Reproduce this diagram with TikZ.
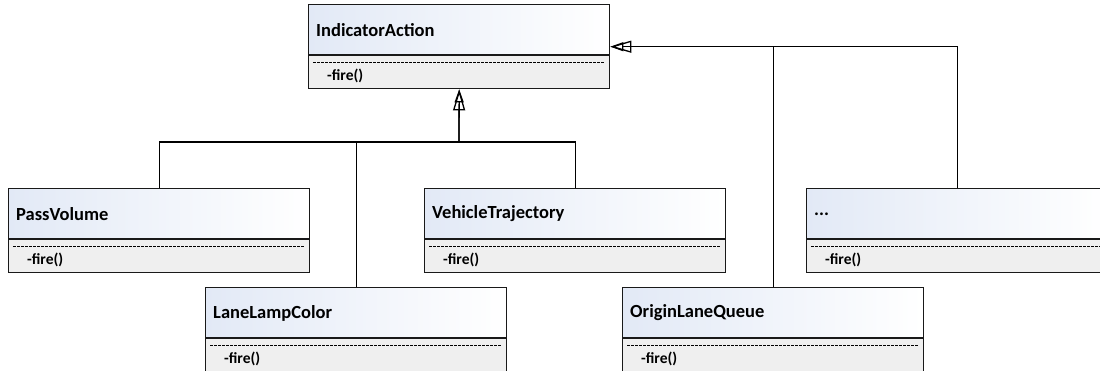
\documentclass[tikz,border=0pt]{standalone}
\usepackage{fontspec}
\setmainfont{Carlito}
\usetikzlibrary{arrows.meta}
\definecolor{hdrblue}{HTML}{E2E9F6}
\definecolor{bodygray}{HTML}{EFEFEF}
\tikzset{
 conn/.style={line width=1.3pt, draw=black},
 boxline/.style={line width=1.4pt, draw=black!90},
 inhA/.style={conn, -{Triangle[open,length=21pt,width=12pt]}},
 inhB/.style={conn, -{Triangle[open,length=13pt,width=9pt]}},
 titletext/.style={anchor=west, font=\fontsize{18.5}{22}\selectfont\bfseries, inner sep=0},
 optext/.style={anchor=west, font=\fontsize{15.5}{18}\selectfont\bfseries, inner sep=0},
 sepdash/.style={line width=0.7pt, dash pattern=on 2.5pt off 1.5pt},
}
\newcommand{\umlcls}[4]{%
 \shade[left color=hdrblue, right color=white] (#2,#3) rectangle ++(301,51);
 \fill[bodygray] (#2,#3+51) rectangle ++(301,33);
 \node[boxline, minimum width=301pt, minimum height=84pt, inner sep=0, anchor=north west] (#1) at (#2,#3) {};
 \draw[boxline] (#2,#3+51) -- ++(301,0);
 \draw[sepdash] (#2+5,#3+58) -- ++(291,0);
 \node[titletext] (#1t) at (#2+8,#3+26) {#4};
 \node[optext] (#1o) at (#2+19,#3+72) {-fire()};
}
\begin{document}
\begin{tikzpicture}[x=1pt,y=-1pt]
\clip (0,0) rectangle (1100,370);
\fill[white] (0,0) rectangle (1100,370);
\umlcls{IA}{308}{4}{IndicatorAction}
\umlcls{PV}{8}{188}{PassVolume}
\umlcls{VT}{424}{188}{VehicleTrajectory}
\umlcls{DOT}{806}{188}{...}
\umlcls{LLC}{205}{287}{LaneLampColor}
\umlcls{OLQ}{622}{287}{OriginLaneQueue}
\coordinate (busC) at (459,142);
\draw[conn] (PV.north) |- (busC);
\draw[conn] (LLC.north) -- (LLC.north |- busC);
\draw[conn] (VT.north) |- (busC);
\draw[inhA] (busC) -- (IA.south);
\draw[inhB] (busC) -- (IA.south);
\draw[inhA] (DOT.north) |- (IA.east);
\draw[inhB] (DOT.north) |- (IA.east);
\draw[conn] (OLQ.north) -- (OLQ.north |- IA.east);
\end{tikzpicture}
\end{document}
